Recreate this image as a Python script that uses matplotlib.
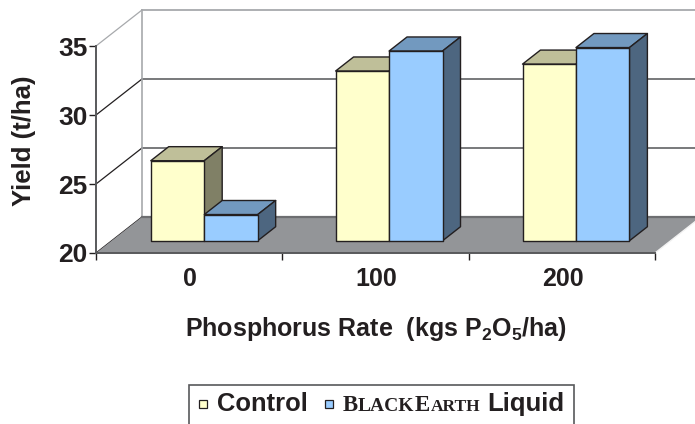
import numpy as np
import matplotlib
matplotlib.use("Agg")
import matplotlib.pyplot as plt
from matplotlib.patches import Polygon, Rectangle

plt.rcParams['font.family'] = ['Liberation Sans', 'DejaVu Sans']
plt.rcParams['mathtext.fontset'] = 'custom'
plt.rcParams['mathtext.rm'] = 'Liberation Sans:bold'
plt.rcParams['mathtext.bf'] = 'Liberation Sans:bold'

rates = ['0', '100', '200']
control = [25.8, 32.3, 32.8]
blackearth = [21.9, 33.75, 34.0]
yticks = [20, 25, 30, 35]

INK = '#231f20'
W, H = 695, 424
fig = plt.figure(figsize=(W / 100, H / 100), dpi=100)
ax = fig.add_axes([96 / W, 1 - 253 / H, 559 / W, 207 / H])
ax.set_xlim(0, 3)
ax.set_ylim(20, 35)

# oblique depth: how far the back wall sits from the front plane, in data units
DX = 46 / (559 / 3)
DY = 36 / (207 / 15)


def pt(x, v, d):
    return (x + d * DX, v + d * DY)


def face(points, color, edge=INK, lw=1.0, z=3):
    ax.add_patch(Polygon(points, closed=True, facecolor=color, edgecolor=edge,
                         linewidth=lw, clip_on=False, zorder=z, joinstyle='round'))


def box(x0, x1, v, d0, d1, front, top, side, z):
    face([pt(x0, 20, d0), pt(x1, 20, d0), pt(x1, v, d0), pt(x0, v, d0)], front, z=z + 0.2)
    face([pt(x0, v, d0), pt(x1, v, d0), pt(x1, v, d1), pt(x0, v, d1)], top, z=z)
    face([pt(x1, 20, d0), pt(x1, 20, d1), pt(x1, v, d1), pt(x1, v, d0)], side, z=z + 0.1)


# walls
for v in yticks:
    col = '#a7a9ac' if v == 35 else '#6d6e71'
    ax.plot([3 + DX, 0 + DX], [v + DY] * 2, color=col, lw=1.3, clip_on=False, zorder=1)
    ax.plot([0, DX], [v, v + DY], color='#a7a9ac' if v == 35 else INK, lw=0.9,
            clip_on=False, zorder=1)
ax.plot([DX, DX], [20 + DY, 35 + DY], color='#a7a9ac', lw=1.2, clip_on=False, zorder=1)

# floor
face([pt(0, 20, 0), pt(3, 20, 0), pt(3, 20, 1), pt(0, 20, 1)], '#939598', edge='none', z=2)
ax.plot([DX, 3 + DX], [20 + DY] * 2, color='#6d6e71', lw=1.6, clip_on=False, zorder=2)
ax.plot([3, 3 + DX], [20, 20 + DY], color='#f2f2f2', lw=1.0, clip_on=False, zorder=2)

# bars
D0, D1 = 0.34, 0.73
BW = 0.287
offs = [-0.003, -0.011, -0.008]
for i in range(len(rates)):
    c = i + 0.5 + offs[i]
    box(c - BW, c, control[i], D0, D1, '#ffffcc', '#bfbf99', '#808066', 3 + i)
    box(c, c + BW, blackearth[i], D0, D1, '#99ccff', '#7299bf', '#4d6680', 3.5 + i)

for s in ['top', 'right']:
    ax.spines[s].set_visible(False)
for s in ['left', 'bottom']:
    ax.spines[s].set_color('#58595b')
    ax.spines[s].set_linewidth(1.4)
    ax.spines[s].set_zorder(8)
ax.patch.set_visible(False)

ax.set_xticks([0, 1, 2, 3])
ax.set_xticklabels([])
ax.set_yticks(yticks)
ax.tick_params(axis='y', length=5, width=1, color=INK, pad=1, labelsize=19,
               labelcolor=INK)
ax.tick_params(axis='x', length=5, width=1, color=INK)
for lab in ax.get_yticklabels():
    lab.set_fontweight('bold')
for i, r in enumerate(rates):
    ax.text(i + 0.5 + 0.006, 19.0, r, ha='center', va='top', fontsize=18,
            fontweight='bold', color=INK)

fig.text(24 / W, 1 - 141 / H, 'Yield (t/ha)', rotation=90, ha='center', va='center',
         fontsize=18.5, fontweight='bold', color=INK)
fig.text(376 / W, 1 - 329 / H, r'Phosphorus Rate  (kgs P$_{2}$O$_{5}$/ha)', ha='center',
         va='center', fontsize=18, fontweight='bold', color=INK)

# legend box, runs off the bottom of the picture
fig.add_artist(Rectangle((188.5 / W, -0.01), 385 / W, 1 - 385 / H + 0.01, transform=fig.transFigure,
                         facecolor='white', edgecolor='#58595b', linewidth=1.2))
fig.add_artist(Rectangle((199 / W, 1 - 408 / H), 8 / W, 8 / H, transform=fig.transFigure,
                         facecolor='#ffffcc', edgecolor=INK, linewidth=0.9))
fig.add_artist(Rectangle((325 / W, 1 - 408 / H), 8 / W, 8 / H, transform=fig.transFigure,
                         facecolor='#99ccff', edgecolor=INK, linewidth=0.9))
base = 1 - 411 / H
fig.text(217 / W, base, 'Control', fontsize=18.4, fontweight='bold', color=INK, va='baseline')
for x, txt, size in [(343, 'B', 16.5), (358, 'LACK', 14), (415, 'E', 16.5), (431, 'ARTH', 12.5)]:
    fig.text(x / W, base, txt, family='Liberation Serif', fontsize=size, fontweight='bold',
             color=INK, va='baseline')
fig.text(487 / W, base, 'Liquid', fontsize=18.5, fontweight='bold', color=INK, va='baseline')

fig.savefig('out.png', dpi=100)
